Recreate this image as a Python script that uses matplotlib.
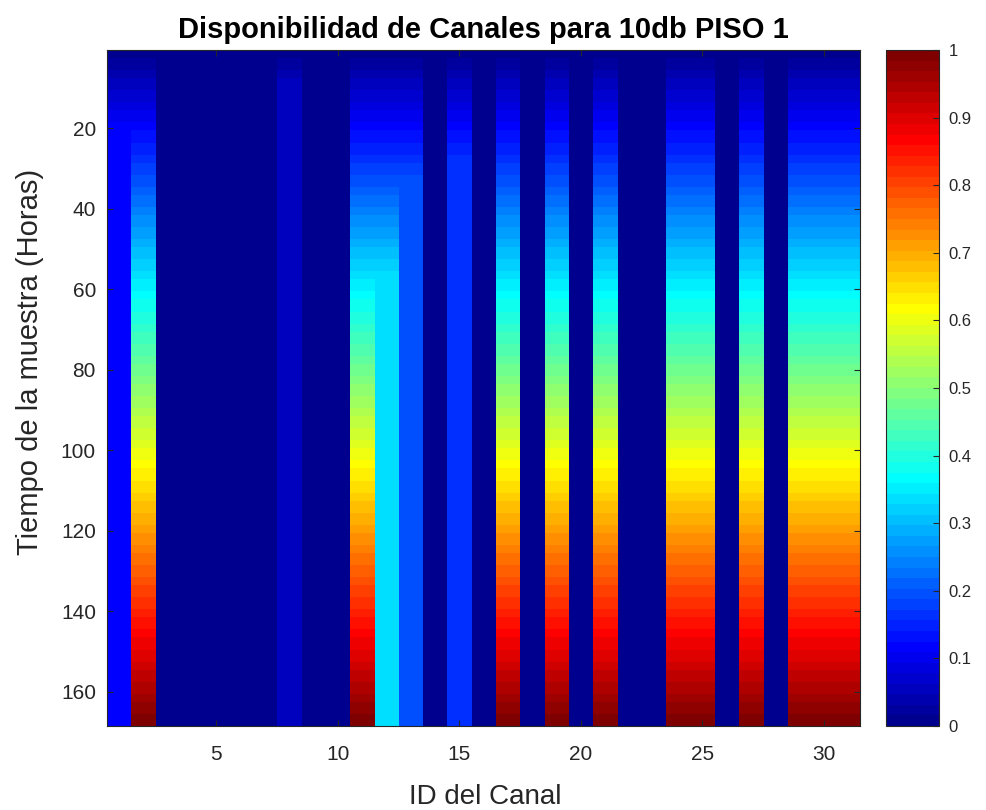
import numpy as np
import matplotlib
matplotlib.use("Agg")
import matplotlib.pyplot as plt
from matplotlib.colors import ListedColormap

# ---- data ----
channel_ids = list(range(1, 32))
n_hours = 168
# consecutive hours (from the start of the sample) during which each channel was available
avail_hours = [20, 168, 0, 0, 0, 0, 0, 10, 0, 0,
               168, 57, 33, 0, 28, 0, 168, 0, 168, 0,
               168, 0, 0, 168, 168, 0, 168, 0, 168, 168, 168]
x_ticks = [5, 10, 15, 20, 25, 30]
y_ticks = [20, 40, 60, 80, 100, 120, 140, 160]
cbar_ticks = [0, 0.1, 0.2, 0.3, 0.4, 0.5, 0.6, 0.7, 0.8, 0.9, 1]
cbar_labels = ["0", "0.1", "0.2", "0.3", "0.4", "0.5", "0.6", "0.7", "0.8", "0.9", "1"]

title = "Disponibilidad de Canales para 10db PISO 1"
xlabel = "ID del Canal"
ylabel = "Tiempo de la muestra (Horas)"

# cumulative availability fraction
hours = np.arange(1, n_hours + 1)
avail = (hours[:, None] <= np.array(avail_hours)[None, :]).astype(float)
occupancy = np.cumsum(avail, axis=0) / n_hours


# ---- MATLAB jet(64) colormap ----
def matlab_jet(m=64):
    n = int(np.ceil(m / 4))
    u = np.concatenate([np.arange(1, n + 1) / n, np.ones(n - 1), np.arange(n, 0, -1) / n])
    g = int(np.ceil(n / 2)) - (1 if m % 4 == 1 else 0) + np.arange(1, len(u) + 1)
    r = g + n
    b = g - n
    r = r[r <= m]
    g = g[g <= m]
    b = b[b >= 1]
    J = np.zeros((m, 3))
    J[r - 1, 0] = u[:len(r)]
    J[g - 1, 1] = u[:len(g)]
    J[b - 1, 2] = u[len(u) - len(b):]
    return ListedColormap(J)


cmap = matlab_jet(64)

plt.rcParams['font.family'] = ['Liberation Sans', 'DejaVu Sans']
txt = '#262626'

W, H = 986, 810
fig = plt.figure(figsize=(W / 100, H / 100), dpi=100)
ax = fig.add_axes([107 / W, 1 - 726 / H, 753 / W, 676 / H])
cax = fig.add_axes([886 / W, 1 - 726 / H, 53 / W, 676 / H])

im = ax.imshow(occupancy, cmap=cmap, vmin=0, vmax=1, aspect='auto',
               interpolation='nearest',
               extent=(channel_ids[0] - 0.5, channel_ids[-1] + 0.5, n_hours + 0.5, 0.5))

ax.set_xticks(x_ticks)
ax.set_yticks(y_ticks)
ax.tick_params(direction='in', length=4, width=0.8, colors=txt, labelsize=15,
               top=True, right=True, labeltop=False, labelright=False)
ax.tick_params(axis='x', pad=14)
ax.tick_params(axis='y', pad=8)
for s in ax.spines.values():
    s.set_color(txt)
    s.set_linewidth(0.8)

fig.text(483 / W, 1 - 30 / H, title, fontsize=21, fontweight='bold', color='black',
         ha='center', va='center')
fig.text(485 / W, 1 - 797 / H, xlabel, fontsize=20, color=txt, ha='center', va='center')
fig.text(30 / W, 1 - 362 / H, ylabel, fontsize=21, color=txt, ha='center', va='center',
         rotation=90)

cb = fig.colorbar(im, cax=cax, ticks=cbar_ticks)
cb.ax.set_yticklabels(cbar_labels)
cb.ax.tick_params(direction='in', length=4, width=0.8, colors=txt, labelsize=12, pad=7)
cb.outline.set_edgecolor(txt)
cb.outline.set_linewidth(0.8)

fig.savefig("out.png", dpi=100)
